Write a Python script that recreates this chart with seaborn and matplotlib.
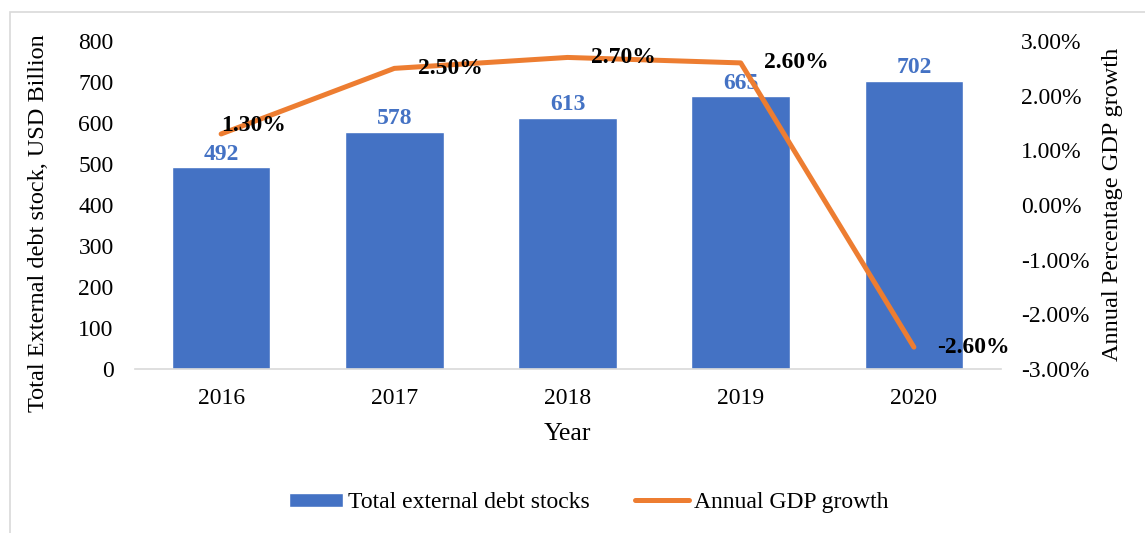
import numpy as np
import pandas as pd
import matplotlib
matplotlib.use("Agg")
import matplotlib.pyplot as plt
from matplotlib.patches import Rectangle
import seaborn as sns

years = ["2016", "2017", "2018", "2019", "2020"]
debt = [492, 578, 613, 665, 702]
gdp_growth = [1.3, 2.5, 2.7, 2.6, -2.6]
debt_labels = ["492", "578", "613", "665", "702"]
gdp_labels = ["1.30%", "2.50%", "2.70%", "2.60%", "-2.60%"]
left_ticks = [0, 100, 200, 300, 400, 500, 600, 700, 800]
right_ticks = [-3, -2, -1, 0, 1, 2, 3]

# label offsets (points) for the growth data labels
gdp_label_offsets = [(0, 6), (17, 0), (17, 0), (17, 0), (17, 0)]

sns.set_theme(style="white")
plt.rcParams["font.family"] = ["Liberation Serif", "DejaVu Serif"]
plt.rcParams["text.color"] = "black"
plt.rcParams["axes.labelcolor"] = "black"
plt.rcParams["xtick.color"] = "black"
plt.rcParams["ytick.color"] = "black"

BLUE = "#4472C4"
ORANGE = "#ED7D31"
FS = 17

df = pd.DataFrame({"Year": years, "Debt": debt, "GDP": gdp_growth})

fig = plt.figure(figsize=(11.45, 5.33), dpi=100)
ax = fig.add_axes([0.1175, 0.3077, 0.7563, 0.6153])

sns.barplot(data=df, x="Year", y="Debt", color=BLUE, saturation=1, width=0.57,
            ax=ax, label="Total external debt stocks")
if ax.get_legend() is not None:
    ax.get_legend().remove()
ax.set_xlim(-0.5, len(years) - 0.5)
ax.set_ylim(0, 800)
ax.set_yticks(left_ticks)
ax.set_yticklabels([str(t) for t in left_ticks], fontsize=FS)
ax.tick_params(axis="x", labelsize=FS, length=0, pad=14)
ax.tick_params(axis="y", length=0, pad=15)
ax.set_xlabel("Year", fontsize=18.5, labelpad=10)
ax.set_ylabel("Total External debt stock, USD Billion", fontsize=17.5)
ax.yaxis.set_label_coords(-0.0987, 0.444)
for s in ["top", "right", "left"]:
    ax.spines[s].set_visible(False)
ax.spines["bottom"].set_color("#D9D9D9")
ax.spines["bottom"].set_linewidth(1.2)

for i, (v, lab) in enumerate(zip(debt, debt_labels)):
    ax.annotate(lab, (i, v), xytext=(0, 2), textcoords="offset points",
                ha="center", va="bottom", fontsize=FS, fontweight="bold", color=BLUE)

ax2 = ax.twinx()
sns.lineplot(x=np.arange(len(years)), y=gdp_growth, ax=ax2, color=ORANGE,
             linewidth=3.6, label="Annual GDP growth", legend=False,
             solid_capstyle="round")
ax2.set_ylim(-3, 3)
ax2.set_yticks(right_ticks)
ax2.set_yticklabels([f"{t:.2f}%" for t in right_ticks], fontsize=FS)
ax2.tick_params(axis="y", length=0, pad=15)
ax2.set_ylabel("Annual Percentage GDP growth", fontsize=17.5)
ax2.yaxis.set_label_coords(1.117, 0.503)
for s in ["top", "right", "left", "bottom"]:
    ax2.spines[s].set_visible(False)
ax2.set_xlim(-0.5, len(years) - 0.5)

for i, (v, lab, off) in enumerate(zip(gdp_growth, gdp_labels, gdp_label_offsets)):
    ax2.annotate(lab, (i, v), xytext=off, textcoords="offset points",
                 ha="left", va="center", fontsize=FS, fontweight="bold", color="black")

h1, l1 = ax.get_legend_handles_labels()
h2, l2 = ax2.get_legend_handles_labels()
fig.legend(h1 + h2, l1 + l2, loc="center", bbox_to_anchor=(0.514, 0.0572), ncol=2,
           frameon=False, fontsize=FS, handlelength=2.3, handleheight=0.55,
           handletextpad=0.2, columnspacing=1.9, borderpad=0, borderaxespad=0)

fig.patches.append(Rectangle((10 / 1145, -0.05), 1.2, 1 - 12 / 533 + 0.05,
                             transform=fig.transFigure, fill=False,
                             edgecolor="#D9D9D9", linewidth=1.2))

fig.savefig("out.png", dpi=100)
